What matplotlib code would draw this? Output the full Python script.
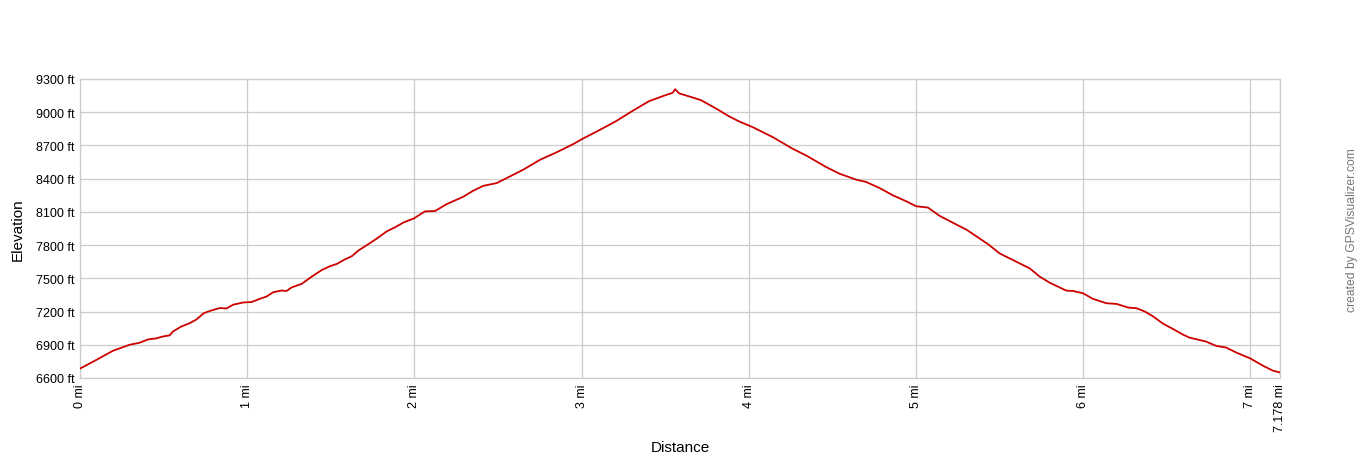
import matplotlib
matplotlib.use("Agg")
import matplotlib.pyplot as plt

plt.rcParams['font.family'] = ['Liberation Sans', 'DejaVu Sans']

distance_mi = [0.0, 0.096, 0.196, 0.296, 0.356, 0.406, 0.456, 0.496, 0.536, 0.556,
               0.606, 0.656, 0.696, 0.74, 0.776, 0.836, 0.876, 0.916, 0.976, 1.026,
               1.076, 1.116, 1.156, 1.206, 1.236, 1.266, 1.326, 1.386, 1.446, 1.496,
               1.536, 1.586, 1.626, 1.666, 1.716, 1.776, 1.836, 1.886, 1.936, 1.996,
               2.064, 2.124, 2.193, 2.293, 2.353, 2.412, 2.492, 2.552, 2.651, 2.751,
               2.851, 2.95, 3.0, 3.106, 3.205, 3.305, 3.404, 3.504, 3.545, 3.56,
               3.584, 3.643, 3.713, 3.803, 3.882, 3.944, 4.024, 4.144, 4.263, 4.343,
               4.463, 4.543, 4.643, 4.703, 4.782, 4.862, 4.942, 5.002, 5.072, 5.142,
               5.242, 5.301, 5.381, 5.431, 5.501, 5.601, 5.681, 5.741, 5.8, 5.9,
               5.94, 6.0, 6.06, 6.14, 6.2, 6.27, 6.32, 6.37, 6.42, 6.48,
               6.54, 6.6, 6.636, 6.736, 6.796, 6.856, 6.916, 7.0, 7.076, 7.136,
               7.178]
elevation_ft = [6685, 6762, 6845, 6900, 6918, 6948, 6958, 6975, 6985, 7020,
                7065, 7095, 7128, 7185, 7205, 7232, 7228, 7262, 7282, 7286,
                7315, 7336, 7375, 7390, 7386, 7418, 7450, 7515, 7575, 7610,
                7630, 7672, 7700, 7752, 7800, 7860, 7925, 7962, 8005, 8040,
                8105, 8108, 8170, 8237, 8292, 8335, 8360, 8405, 8481, 8570,
                8638, 8712, 8755, 8838, 8918, 9012, 9100, 9155, 9175, 9208,
                9170, 9143, 9110, 9035, 8963, 8916, 8865, 8775, 8670, 8610,
                8505, 8445, 8391, 8370, 8316, 8250, 8196, 8151, 8139, 8064,
                7986, 7941, 7860, 7809, 7725, 7650, 7590, 7515, 7461, 7389,
                7386, 7365, 7314, 7275, 7269, 7236, 7230, 7200, 7155, 7089,
                7041, 6990, 6965, 6929, 6890, 6875, 6830, 6777, 6711, 6666,
                6650]

x_ticks = [0, 1, 2, 3, 4, 5, 6, 7, 7.178]
x_tick_labels = ["0 mi", "1 mi", "2 mi", "3 mi", "4 mi", "5 mi", "6 mi", "7 mi", "7.178 mi"]
y_ticks = [6600, 6900, 7200, 7500, 7800, 8100, 8400, 8700, 9000, 9300]
y_tick_labels = [f"{v} ft" for v in y_ticks]

fig = plt.figure(figsize=(13.6, 4.6), dpi=100)
ax = fig.add_axes([80/1360, 1 - 379/460, 1200/1360, 299/460])

ax.plot(distance_mi, elevation_ft, color="#cc0000", linewidth=1.3, zorder=3)

ax.set_xlim(0, 7.178)
ax.set_ylim(6600, 9300)
ax.set_xticks(x_ticks)
ax.set_xticklabels(x_tick_labels, rotation=90, fontsize=9, color="#000000")
ax.set_yticks(y_ticks)
ax.set_yticklabels(y_tick_labels, fontsize=9, color="#000000")
ax.tick_params(axis='both', length=0, pad=4)
ax.grid(True, color="#cccccc", linewidth=0.9)
ax.set_axisbelow(True)
for s in ax.spines.values():
    s.set_color("#cccccc")
    s.set_linewidth(0.9)

fig.text(680/1360, 1 - 448/460, "Distance", fontsize=11, ha="center", va="center")
ax.set_ylabel("Elevation", fontsize=11, labelpad=8)

fig.text(1352/1360, 1 - 230/460, "created by GPSVisualizer.com", rotation=90,
         fontsize=8.7, color="#777777", ha="center", va="center")

fig.savefig("out.png", dpi=100, facecolor="white")
